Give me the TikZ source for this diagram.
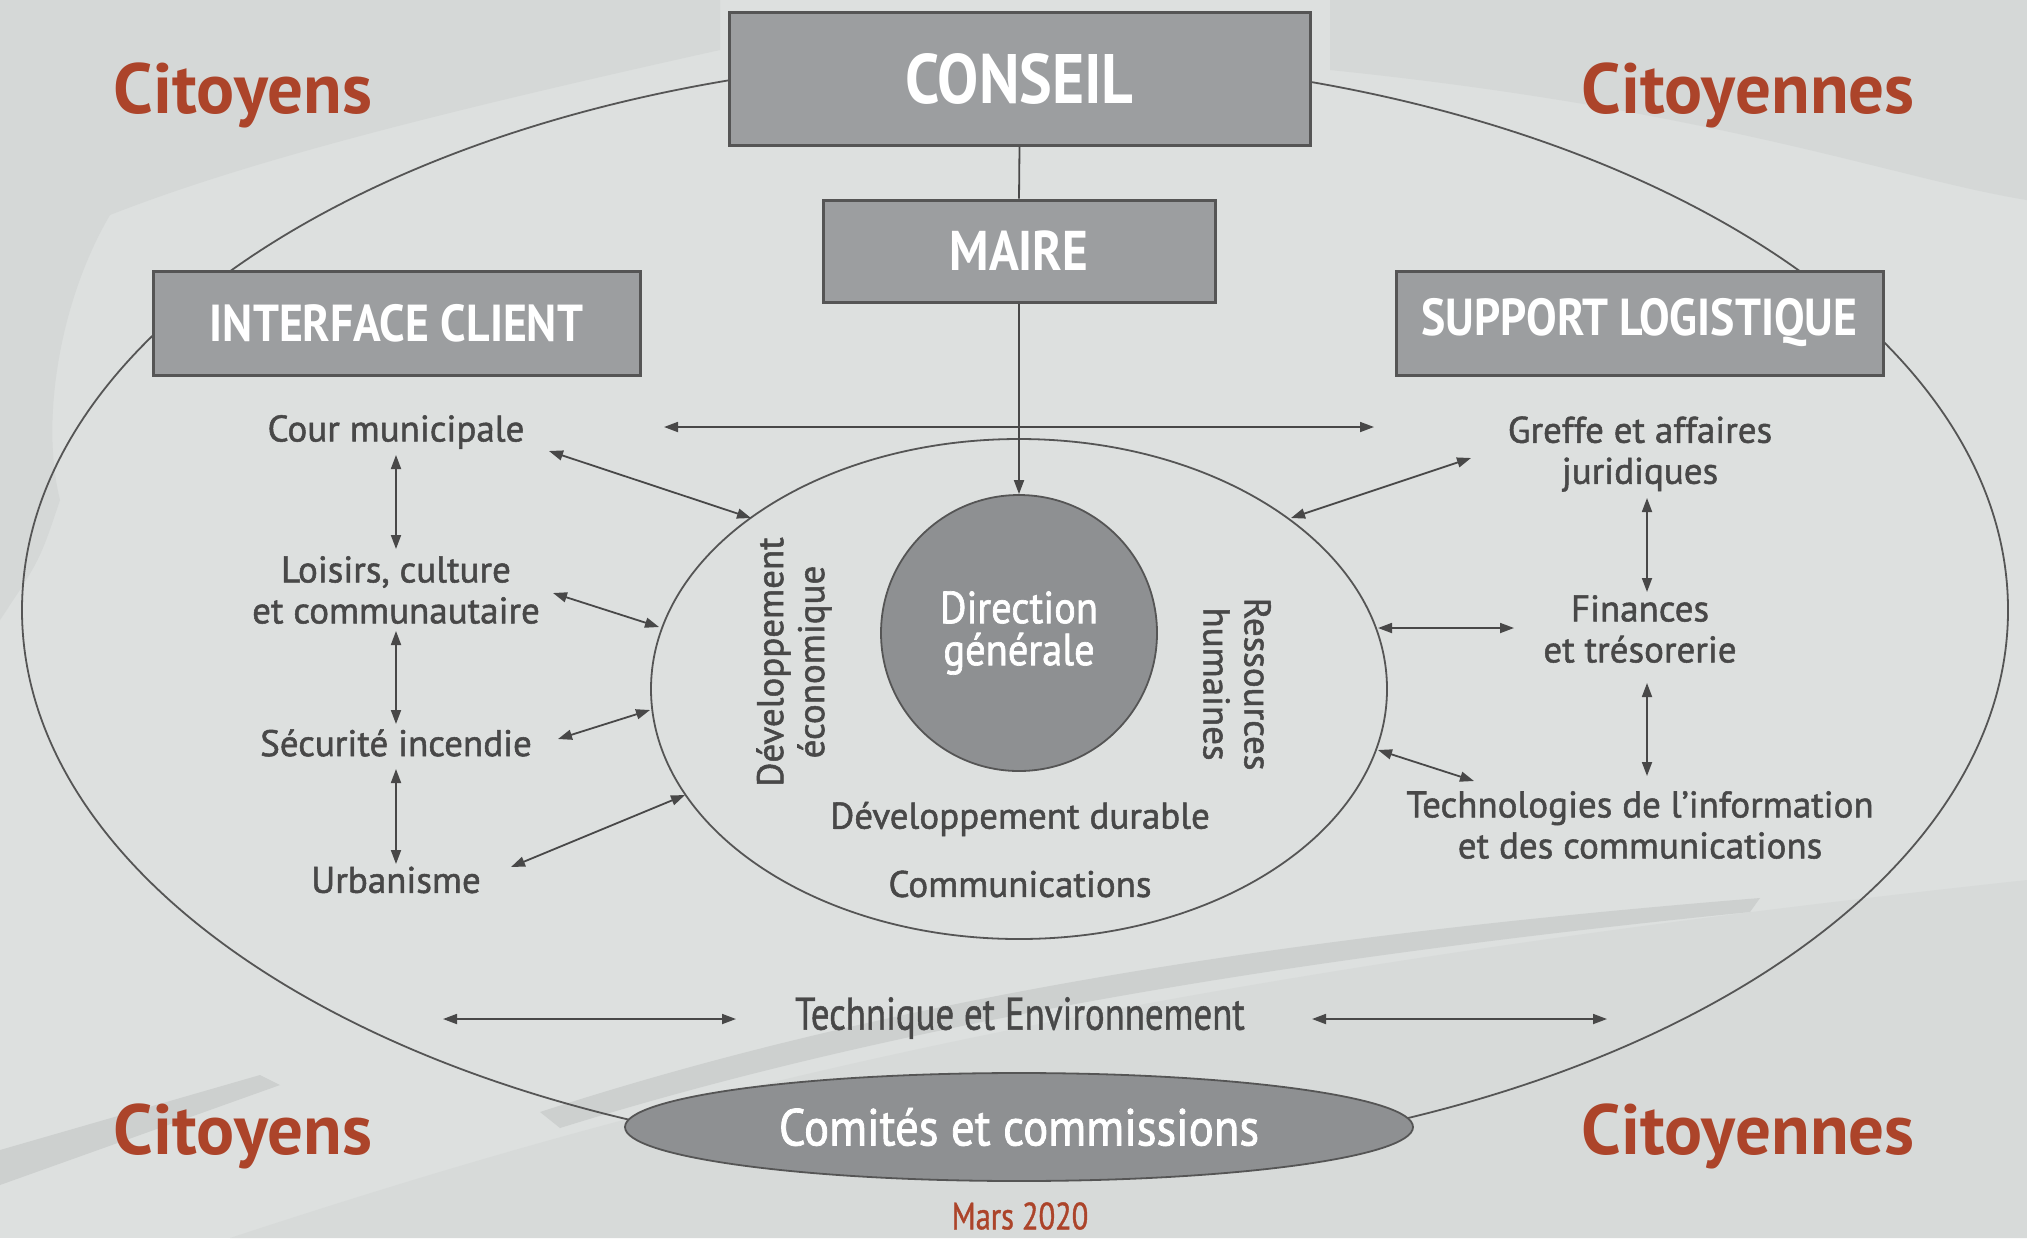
\documentclass[tikz,border=0pt]{standalone}
\usepackage{fontspec}
\setmainfont{PT Sans}
\newfontfamily\bodyfont{PT Sans}[FakeBold=1.4]
\newfontfamily\condfont{PT Sans}[FakeStretch=0.8, FakeBold=1.0]
\newfontfamily\boxfont{PT Sans}[FakeStretch=0.88]
\newfontfamily\midfont{PT Sans}[FakeStretch=0.9, FakeBold=1.5]
\usetikzlibrary{arrows.meta,shapes.geometric}
\definecolor{bg}{RGB}{221,224,223}
\definecolor{boxfill}{RGB}{156,158,160}
\definecolor{boxline}{RGB}{85,85,85}
\definecolor{txt}{RGB}{72,72,72}
\definecolor{rust}{RGB}{172,68,42}
\definecolor{darkfill}{RGB}{142,144,146}
\definecolor{shade1}{RGB}{213,216,215}
\definecolor{shade2}{RGB}{215,218,217}
\definecolor{shade3}{RGB}{205,208,207}
\begin{document}
\begin{tikzpicture}[x=0.5pt,y=-0.5pt,
  boxnode/.style={draw=boxline, fill=boxfill, line width=1.5pt, text=white,
    font=\boxfont\bfseries\fontsize{26}{30}\selectfont, inner sep=0pt},
  lbl/.style={text=txt, font=\bodyfont\fontsize{18.5}{20.5}\selectfont, align=center, inner sep=0pt},
  cit/.style={text=rust, font=\bfseries\fontsize{35.5}{40}\selectfont, inner sep=0pt},
  link/.style={draw=txt, line width=0.9pt},
  arr/.style={link, {Triangle[length=7pt,width=5pt]}-{Triangle[length=7pt,width=5pt]}},
  onearr/.style={link, -{Triangle[length=7pt,width=5pt]}},
]
% background
\fill[bg] (0,0) rectangle (2027,1238);
\useasboundingbox (0,0) rectangle (2027,1238);
\fill[shade1] (0,0) -- (720,0) -- (720,50) .. controls (450,110) and (250,160) .. (110,215) .. controls (60,300) and (40,420) .. (60,500) .. controls (40,560) .. (0,620) -- cycle;
\fill[shade1] (1330,0) -- (2027,0) -- (2027,200) .. controls (1900,180) and (1720,110) .. (1330,70) -- cycle;
\fill[shade2] (230,1238) .. controls (650,1100) and (1100,980) .. (2027,880) -- (2027,1238) -- cycle;
\fill[shade3] (540,1112) .. controls (900,995) and (1300,935) .. (1760,898) -- (1750,912) .. controls (1300,957) and (900,1022) .. (560,1128) -- cycle;
\fill[shade3] (0,1150) -- (260,1075) -- (280,1085) -- (0,1185) -- cycle;

% outer ellipse
\draw[boxline, line width=0.9pt] (1015,610) ellipse [x radius=993, y radius=553];

% boxes
\node[boxnode, minimum width=290.5pt, minimum height=66.5pt, font=\boxfont\bfseries\fontsize{35}{38}\selectfont] (conseil) at (1019.5,78.5) {CONSEIL};
\node[boxnode, minimum width=196pt, minimum height=51pt, font=\boxfont\bfseries\fontsize{28}{30}\selectfont] (maire) at (1019,251) {MAIRE};
\node[boxnode, minimum width=243.5pt, minimum height=52pt] (iclient) at (396.5,323) {INTERFACE CLIENT};
\node[boxnode, minimum width=243.5pt, minimum height=52pt] (slog) at (1639.5,323) {SUPPORT LOGISTIQUE};

% inner ellipse and centre
\node[ellipse, draw=boxline, line width=0.9pt, minimum width=368pt, minimum height=250pt, inner sep=0pt] (inner) at (1019,689) {};
\node[circle, draw=boxline, fill=darkfill, line width=0.9pt, minimum size=138pt, inner sep=0pt,
  text=white, align=center, font=\midfont\fontsize{22.5}{21}\selectfont] (dg) at (1019,633) {Direction\\générale};

% citoyens
\node[cit] (c1) at (243,95) {Citoyens};
\node[cit] (c2) at (1748,95) {Citoyennes};
\node[cit] (c3) at (243,1136) {Citoyens};
\node[cit] (c4) at (1748,1136) {Citoyennes};

% left column
\node[lbl] (cour) at (396,432) {Cour municipale};
\node[lbl] (loisirs) at (396,590) {Loisirs, culture\\et communautaire};
\node[lbl] (secu) at (396,743) {Sécurité incendie};
\node[lbl] (urba) at (396,880) {Urbanisme};

% right column
\node[lbl] (greffe) at (1640,454) {Greffe et affaires\\juridiques};
\node[lbl] (fin) at (1640,629) {Finances\\et trésorerie};
\node[lbl] (techno) at (1640,825) {Technologies de l’information\\et des communications};

% inner texts
\node[lbl, rotate=90] (deveco) at (794,662) {Développement\\économique};
\node[lbl, rotate=-90] (rh) at (1237,684) {Ressources\\humaines};
\node[lbl] (durable) at (1020,819) {Développement durable};
\node[lbl] (comm) at (1020,884) {Communications};

% technique
\node[lbl, font=\condfont\fontsize{23}{24}\selectfont] (tech) at (1020,1018) {Technique et Environnement};

% comites
\node[ellipse, draw=boxline, fill=darkfill, line width=0.9pt, minimum width=394pt, minimum height=54pt, inner sep=0pt,
  text=white, font=\midfont\fontsize{26}{28}\selectfont] (comites) at (1019,1127) {Comités et commissions};
\node[text=rust, font=\condfont\fontsize{19}{20}\selectfont, inner sep=0pt] (mars) at (1020,1216) {Mars 2020};

% coordinates for connector ends
\coordinate (mtop) at (664,427);
\coordinate (mtopR) at (1374,427);
\coordinate (l1a) at (549,451);  \coordinate (l1b) at (751,518);
\coordinate (l2a) at (553,593);  \coordinate (l2b) at (659,627);
\coordinate (l3a) at (558,739);  \coordinate (l3b) at (650,710);
\coordinate (l4a) at (511,867);  \coordinate (l4b) at (685,795);
\coordinate (r1a) at (1471,458); \coordinate (r1b) at (1291,518);
\coordinate (r2a) at (1514,628); \coordinate (r2b) at (1378,628);
\coordinate (r3a) at (1474,781); \coordinate (r3b) at (1378,750);
\coordinate (v1a) at (396,455);  \coordinate (v1b) at (396,549);
\coordinate (v2a) at (396,631);  \coordinate (v2b) at (396,724);
\coordinate (v3a) at (396,769);  \coordinate (v3b) at (396,864);
\coordinate (w1a) at (1647,498); \coordinate (w1b) at (1647,592);
\coordinate (w2a) at (1647,683); \coordinate (w2b) at (1647,776);
\coordinate (t1a) at (443,1019); \coordinate (t1b) at (736,1019);
\coordinate (t2a) at (1312,1019);\coordinate (t2b) at (1607,1019);

% connectors
\draw[link] (conseil.south) -- (maire.north);
\draw[arr] (mtop) -- (mtopR);
\draw[onearr] (maire.south) -- (dg.north);
\draw[arr] (l1a) -- (l1b);
\draw[arr] (l2a) -- (l2b);
\draw[arr] (l3a) -- (l3b);
\draw[arr] (l4a) -- (l4b);
\draw[arr] (r1a) -- (r1b);
\draw[arr] (r2a) -- (r2b);
\draw[arr] (r3a) -- (r3b);
\draw[arr] (v1a) -- (v1b);
\draw[arr] (v2a) -- (v2b);
\draw[arr] (v3a) -- (v3b);
\draw[arr] (w1a) -- (w1b);
\draw[arr] (w2a) -- (w2b);
\draw[arr] (t1a) -- (t1b);
\draw[arr] (t2a) -- (t2b);
\end{tikzpicture}
\end{document}
